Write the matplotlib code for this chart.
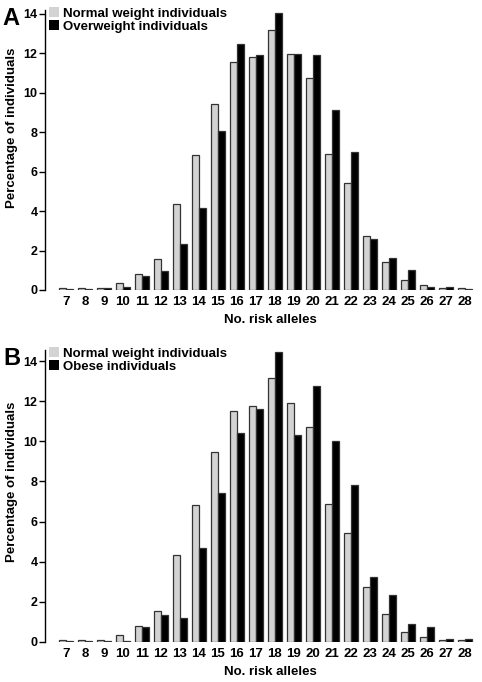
import matplotlib
matplotlib.use('Agg')
import matplotlib.pyplot as plt
from matplotlib.patches import Patch

plt.rcParams['font.family'] = ['Liberation Sans', 'DejaVu Sans']
plt.rcParams['font.weight'] = 'bold'

# number of risk alleles
alleles = list(range(7, 29))

# percentage of individuals
normal = [0.08, 0.08, 0.12, 0.35, 0.8, 1.55, 4.35, 6.85, 9.45, 11.55, 11.8,
          13.2, 11.95, 10.75, 6.9, 5.45, 2.75, 1.4, 0.5, 0.25, 0.08, 0.08]
overweight = [0.04, 0.07, 0.08, 0.15, 0.72, 0.95, 2.35, 4.15, 8.05, 12.45, 11.9,
              14.05, 11.95, 11.9, 9.15, 7.0, 2.6, 1.6, 1.0, 0.15, 0.15, 0.04]
normal_b = [0.08, 0.08, 0.12, 0.35, 0.8, 1.55, 4.35, 6.85, 9.45, 11.5, 11.75,
            13.15, 11.9, 10.7, 6.9, 5.45, 2.75, 1.4, 0.5, 0.25, 0.08, 0.08]
obese = [0.04, 0.04, 0.04, 0.04, 0.75, 1.35, 1.2, 4.7, 7.4, 10.4, 11.6,
         14.45, 10.3, 12.75, 10.0, 7.8, 3.25, 2.35, 0.9, 0.75, 0.15, 0.15]

panels = [
    ("A", normal, overweight, "Overweight individuals", [0.0934, 0.5748, 0.898, 0.4106], 14.2, 0.9633, 0.58),
    ("B", normal_b, obese, "Obese individuals", [0.0934, 0.0587, 0.898, 0.4281], 14.55, 0.4648, 0.55),
]

fig = plt.figure(figsize=(4.82, 6.82), dpi=100)
gray = "#d3d3d3"
w = 0.35

for letter, a_vals, b_vals, b_label, rect, ytop, ly, ylab_y in panels:
    ax = fig.add_axes(rect)
    xs = [x - w / 2 for x in alleles]
    xs2 = [x + w / 2 for x in alleles]
    ax.bar(xs, a_vals, width=w, color=gray, edgecolor="#333333", linewidth=0.9)
    ax.bar(xs2, b_vals, width=w, color="black", edgecolor="#333333", linewidth=0.9)
    ax.set_xlim(5.9, 28.68)
    ax.set_ylim(0, ytop)
    ax.set_yticks(range(0, 15, 2))
    ax.set_xticks(alleles)
    ax.tick_params(axis='x', length=0, pad=4, labelsize=9.5)
    ax.tick_params(axis='y', length=4, width=1, pad=1.5, labelsize=9)
    for s in ["top", "right", "bottom"]:
        ax.spines[s].set_visible(False)
    ax.spines["left"].set_linewidth(1)
    ax.set_xlabel("No. risk alleles", fontsize=9.5, fontweight="bold", labelpad=5, x=0.52)
    ax.set_ylabel("Percentage of individuals", fontsize=9.5, fontweight="bold", labelpad=4, y=ylab_y)
    handles = [Patch(facecolor=gray, edgecolor="none"), Patch(facecolor="black", edgecolor="none")]
    ax.legend(handles, ["Normal weight individuals", b_label], loc="upper left",
              bbox_to_anchor=(0.01, 1.01), frameon=False, handlelength=0.75,
              handleheight=0.75, handletextpad=0.25, labelspacing=0.05,
              borderpad=0, borderaxespad=0, prop={"size": 9.5, "weight": "bold"})
    fig.text(0.006, ly, letter, fontsize=17, fontweight="bold", va="baseline", ha="left")

plt.savefig("out.png", dpi=100)
